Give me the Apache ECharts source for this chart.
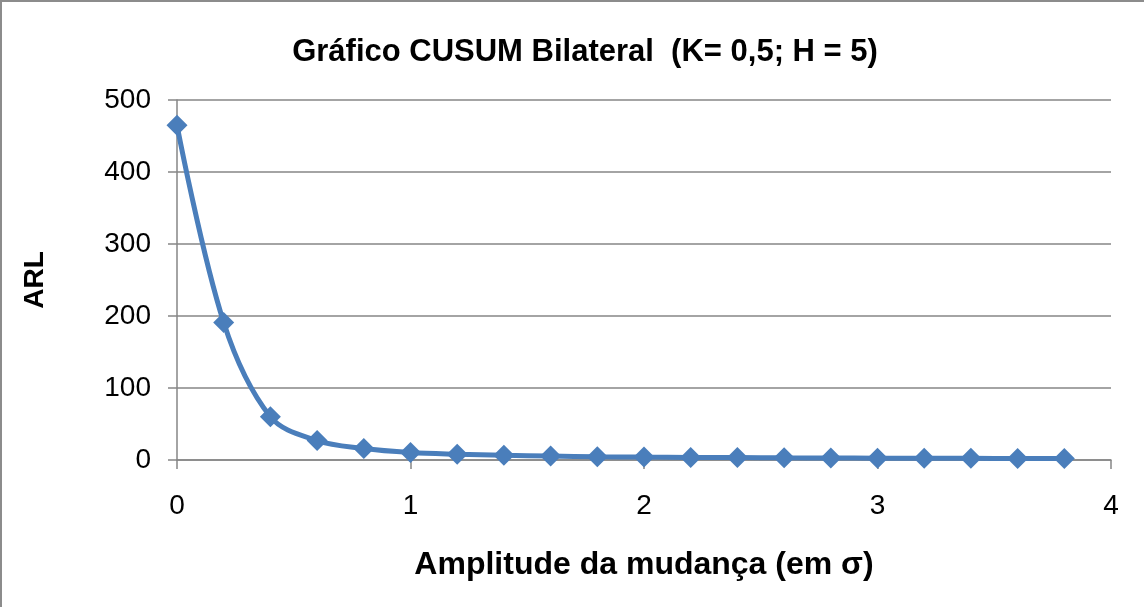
<!DOCTYPE html>
<html>
<head>
<meta charset="utf-8">
<script src="https://cdn.jsdelivr.net/npm/echarts@6/dist/echarts.min.js"></script>
<style>
  html, body { margin: 0; padding: 0; background: #fff; }
  #chart { width: 1144px; height: 607px; box-sizing: border-box; border: 2px solid #8c8c8c; border-right: none; border-bottom: none; }
</style>
</head>
<body>
<div id="chart"></div>
<script>
// amplitude of the shift (in sigma) and the ARL
const shifts = [0, 0.2, 0.4, 0.6, 0.8, 1.0, 1.2, 1.4, 1.6, 1.8, 2.0, 2.2, 2.4, 2.6, 2.8, 3.0, 3.2, 3.4, 3.6, 3.8];
const arl = [465, 191, 60, 27, 16, 10.4, 8, 6.5, 5.5, 4.6, 4.0, 3.6, 3.3, 3.0, 2.8, 2.6, 2.4, 2.3, 2.2, 2.1];

const chart = echarts.init(document.getElementById('chart'));

var option = {
  animation: false,
  title: {
    text: 'Gráfico CUSUM Bilateral  (K= 0,5; H = 5)',
    left: 578,
    top: 30,
    textAlign: 'center',
    textStyle: { fontFamily: 'Liberation Sans', fontSize: 31, fontWeight: 'bold', color: '#000' }
  },
  grid: { left: 175, right: 33, top: 98, bottom: 147 },
  xAxis: {
    type: 'value',
    min: 0, max: 4, interval: 1,
    name: 'Amplitude da mudança (em σ)',
    nameLocation: 'middle',
    nameGap: 89,
    nameTextStyle: { fontFamily: 'Liberation Sans', fontSize: 32, fontWeight: 'bold', color: '#000' },
    axisLine: { lineStyle: { color: '#868686', width: 1.5 } },
    axisTick: { show: true, length: 9, lineStyle: { color: '#868686', width: 1.5 } },
    axisLabel: { fontFamily: 'Liberation Sans', fontSize: 28, color: '#000', margin: 32 },
    splitLine: { show: false }
  },
  yAxis: {
    type: 'value',
    min: 0, max: 500, interval: 100,
    name: 'ARL',
    nameLocation: 'middle',
    nameGap: 128,
    nameTextStyle: { fontFamily: 'Liberation Sans', fontSize: 28, fontWeight: 'bold', color: '#000' },
    axisLine: { show: true, lineStyle: { color: '#868686', width: 1.5 } },
    axisTick: { show: true, length: 9, lineStyle: { color: '#868686', width: 1.5 } },
    axisLabel: { fontFamily: 'Liberation Sans', fontSize: 28, color: '#000', margin: 26 },
    splitLine: { lineStyle: { color: '#868686', width: 1.5 } }
  },
  series: [
    {
      type: 'line',
      data: shifts.map((s, i) => [s, arl[i]]),
      smooth: 0.35,
      symbol: 'diamond',
      symbolSize: 21,
      lineStyle: { color: '#4a7ebb', width: 5 },
      itemStyle: { color: '#4a7ebb' }
    }
  ]
};

option && chart.setOption(option);
</script>
</body>
</html>
